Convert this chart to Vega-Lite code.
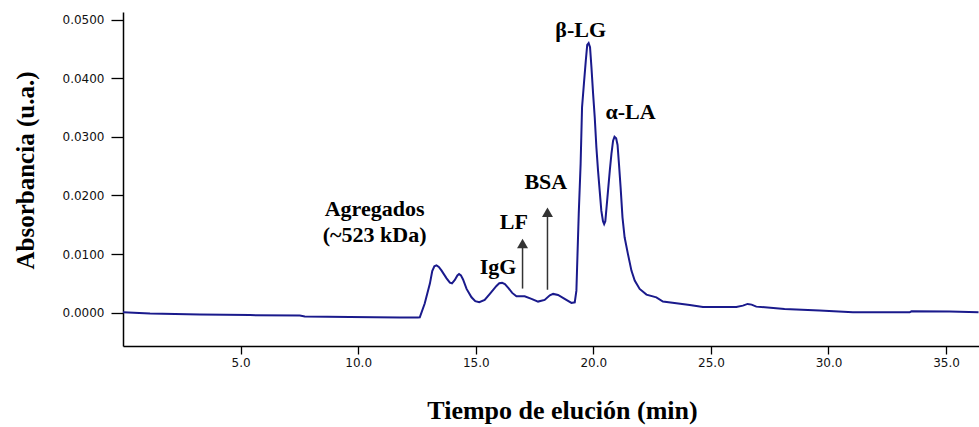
{
  "$schema": "https://vega.github.io/schema/vega-lite/v6.json",
  "width": 856,
  "height": 334,
  "autosize": {"type": "none"},
  "padding": {"left": 123, "top": 12, "right": 0, "bottom": 81},
  "background": "white",
  "config": {
    "view": {"stroke": null},
    "axis": {
      "grid": false,
      "domainColor": "#000000",
      "domainWidth": 1.5,
      "tickColor": "#000000",
      "tickWidth": 1.3,
      "labelFont": "DejaVu Sans",
      "labelFontSize": 12,
      "labelColor": "#111111",
      "titleFont": "Liberation Serif",
      "titleFontWeight": "bold",
      "titleColor": "#000000"
    }
  },
  "datasets": {
    "trace": [
      {"t": 0.00, "abs": 0.00005},
      {"t": 1.15, "abs": -0.00017},
      {"t": 2.21, "abs": -0.00026},
      {"t": 3.27, "abs": -0.00034},
      {"t": 5.40, "abs": -0.00043},
      {"t": 7.52, "abs": -0.00051},
      {"t": 7.73, "abs": -0.00068},
      {"t": 9.65, "abs": -0.00077},
      {"t": 11.77, "abs": -0.00085},
      {"t": 12.54, "abs": -0.00085},
      {"t": 12.62, "abs": -0.0008},
      {"t": 12.83, "abs": 0.00154},
      {"t": 13.05, "abs": 0.00495},
      {"t": 13.15, "abs": 0.0071},
      {"t": 13.24, "abs": 0.0079},
      {"t": 13.33, "abs": 0.00805},
      {"t": 13.43, "abs": 0.0078},
      {"t": 13.54, "abs": 0.0072},
      {"t": 13.76, "abs": 0.00585},
      {"t": 13.90, "abs": 0.0051},
      {"t": 13.99, "abs": 0.0050},
      {"t": 14.11, "abs": 0.00556},
      {"t": 14.22, "abs": 0.00635},
      {"t": 14.29, "abs": 0.0066},
      {"t": 14.37, "abs": 0.00635},
      {"t": 14.46, "abs": 0.00565},
      {"t": 14.61, "abs": 0.00404},
      {"t": 14.82, "abs": 0.00261},
      {"t": 14.98, "abs": 0.00195},
      {"t": 15.15, "abs": 0.00176},
      {"t": 15.38, "abs": 0.00215},
      {"t": 15.60, "abs": 0.00319},
      {"t": 15.88, "abs": 0.00455},
      {"t": 16.00, "abs": 0.00500},
      {"t": 16.12, "abs": 0.00507},
      {"t": 16.24, "abs": 0.00485},
      {"t": 16.40, "abs": 0.00415},
      {"t": 16.55, "abs": 0.00336},
      {"t": 16.73, "abs": 0.00278},
      {"t": 17.08, "abs": 0.00278},
      {"t": 17.37, "abs": 0.00234},
      {"t": 17.65, "abs": 0.00188},
      {"t": 17.93, "abs": 0.00217},
      {"t": 18.15, "abs": 0.00295},
      {"t": 18.29, "abs": 0.00319},
      {"t": 18.50, "abs": 0.00302},
      {"t": 18.78, "abs": 0.00234},
      {"t": 19.07, "abs": 0.00165},
      {"t": 19.21, "abs": 0.00176},
      {"t": 19.28, "abs": 0.00375},
      {"t": 19.31, "abs": 0.00773},
      {"t": 19.38, "abs": 0.01689},
      {"t": 19.46, "abs": 0.02542},
      {"t": 19.52, "abs": 0.03502},
      {"t": 19.60, "abs": 0.03907},
      {"t": 19.68, "abs": 0.04300},
      {"t": 19.74, "abs": 0.04570},
      {"t": 19.80, "abs": 0.04600},
      {"t": 19.86, "abs": 0.04530},
      {"t": 19.92, "abs": 0.04185},
      {"t": 19.99, "abs": 0.03736},
      {"t": 20.06, "abs": 0.03332},
      {"t": 20.13, "abs": 0.0282},
      {"t": 20.20, "abs": 0.02423},
      {"t": 20.27, "abs": 0.02081},
      {"t": 20.34, "abs": 0.0174},
      {"t": 20.41, "abs": 0.0156},
      {"t": 20.46, "abs": 0.0151},
      {"t": 20.51, "abs": 0.0156},
      {"t": 20.60, "abs": 0.01967},
      {"t": 20.70, "abs": 0.02423},
      {"t": 20.77, "abs": 0.02707},
      {"t": 20.84, "abs": 0.02934},
      {"t": 20.90, "abs": 0.03000},
      {"t": 20.97, "abs": 0.02975},
      {"t": 21.03, "abs": 0.02860},
      {"t": 21.09, "abs": 0.02537},
      {"t": 21.16, "abs": 0.02138},
      {"t": 21.24, "abs": 0.01626},
      {"t": 21.33, "abs": 0.01285},
      {"t": 21.47, "abs": 0.01002},
      {"t": 21.62, "abs": 0.00717},
      {"t": 21.76, "abs": 0.00546},
      {"t": 21.97, "abs": 0.00404},
      {"t": 22.26, "abs": 0.00307},
      {"t": 22.68, "abs": 0.00261},
      {"t": 22.96, "abs": 0.00188},
      {"t": 23.53, "abs": 0.00159},
      {"t": 24.10, "abs": 0.00131},
      {"t": 24.66, "abs": 0.00094},
      {"t": 26.08, "abs": 0.00094},
      {"t": 26.36, "abs": 0.00119},
      {"t": 26.56, "abs": 0.00148},
      {"t": 26.73, "abs": 0.00136},
      {"t": 26.93, "abs": 0.00102},
      {"t": 28.13, "abs": 0.00063},
      {"t": 29.62, "abs": 0.00034},
      {"t": 31.04, "abs": 0.00005},
      {"t": 33.45, "abs": 0.00005},
      {"t": 33.53, "abs": 0.00022},
      {"t": 35.15, "abs": 0.00017},
      {"t": 36.38, "abs": 0.00005}
    ],
    "labels": [
      {"t": 10.70, "abs": 0.01643, "label": "Agregados"},
      {"t": 10.70, "abs": 0.01205, "label": "(~523 kDa)"},
      {"t": 15.95, "abs": 0.00666, "label": "IgG"},
      {"t": 16.62, "abs": 0.01433, "label": "LF"},
      {"t": 17.98, "abs": 0.02116, "label": "BSA"},
      {"t": 19.46, "abs": 0.04703, "label": "β-LG"},
      {"t": 21.58, "abs": 0.03311, "label": "α-LA"}
    ],
    "arrows": [
      {"t": 16.99, "from": 0.0041, "to": 0.0118},
      {"t": 18.05, "from": 0.0039, "to": 0.01714}
    ]
  },
  "layer": [
    {
      "data": {"name": "trace"},
      "mark": {"type": "line", "color": "#1a1a8c", "strokeWidth": 2, "clip": true},
      "encoding": {
        "x": {
          "field": "t", "type": "quantitative",
          "scale": {"domain": [0, 36.4], "nice": false, "zero": false},
          "axis": {
            "values": [5, 10, 15, 20, 25, 30, 35],
            "format": ".1f",
            "tickSize": 8,
            "labelPadding": 3,
            "title": "Tiempo de elución (min)",
            "titleFontSize": 26,
            "titleBaseline": "alphabetic",
            "titleAnchor": "start",
            "titleAlign": "center",
            "titleX": 439,
            "titleY": 72
          }
        },
        "y": {
          "field": "abs", "type": "quantitative",
          "scale": {"domain": [-0.0057, 0.0513], "nice": false, "zero": false},
          "axis": {
            "values": [0, 0.01, 0.02, 0.03, 0.04, 0.05],
            "format": ".4f",
            "tickSize": 12,
            "labelPadding": 7,
            "title": "Absorbancia (u.a.)",
            "titleFontSize": 25,
            "titleAngle": -90,
            "titleBaseline": "alphabetic",
            "titleAlign": "center",
            "titleX": -90,
            "titleY": 158
          }
        }
      }
    },
    {
      "data": {"name": "arrows"},
      "mark": {"type": "rule", "color": "#333333", "strokeWidth": 1.5},
      "encoding": {
        "x": {"field": "t", "type": "quantitative"},
        "y": {"field": "from", "type": "quantitative"},
        "y2": {"field": "to"}
      }
    },
    {
      "data": {"name": "arrows"},
      "mark": {"type": "point", "shape": "triangle-up", "filled": true, "color": "#333333", "size": 120, "opacity": 1},
      "encoding": {
        "x": {"field": "t", "type": "quantitative"},
        "y": {"field": "to", "type": "quantitative"}
      }
    },
    {
      "data": {"name": "labels"},
      "mark": {"type": "text", "font": "Liberation Serif", "fontWeight": "bold", "fontSize": 22, "color": "#000000", "align": "center", "baseline": "alphabetic"},
      "encoding": {
        "x": {"field": "t", "type": "quantitative"},
        "y": {"field": "abs", "type": "quantitative"},
        "text": {"field": "label"}
      }
    }
  ]
}
